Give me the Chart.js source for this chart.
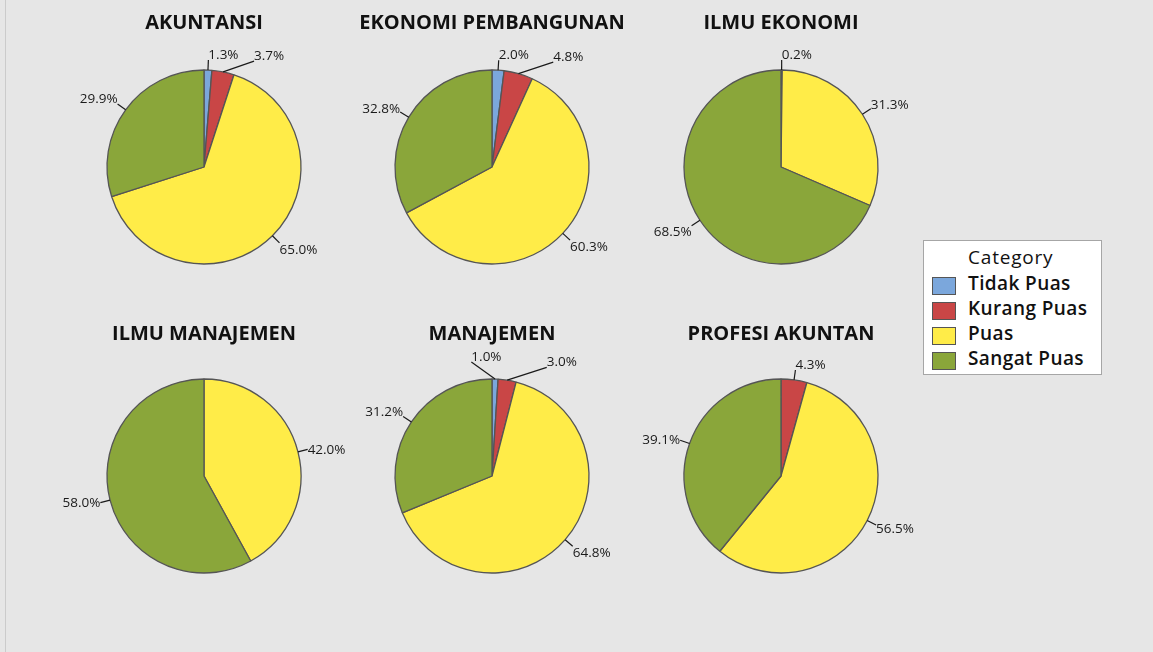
<!DOCTYPE html>
<html>
<head>
<meta charset="utf-8">
<script src="https://cdn.jsdelivr.net/npm/chart.js@4.4.1/dist/chart.umd.min.js"></script>
<style>
  html, body { margin: 0; padding: 0; }
  body {
    width: 1153px; height: 652px; position: relative; overflow: hidden;
    background: #e6e6e6; font-family: "Open Sans", sans-serif;
  }
  #frame { position: absolute; left: 5px; top: 0; width: 1px; height: 652px; background: #cbcbcb; }
  .pie { position: absolute; width: 300px; height: 280px; }
  #legend {
    position: absolute; left: 923px; top: 240px; width: 177px; height: 133px;
    background: #fff; border: 1px solid #a6a6a6;
  }
  #legend .head { position: absolute; left: 44px; top: 3px; font-size: 19px; letter-spacing: 0.8px; color: #111; }
  #legend .item { position: absolute; left: 8px; height: 20px; font-size: 19px; font-weight: 600; letter-spacing: 0.4px; color: #111; }
  #legend .item span.box {
    position: absolute; left: 0; top: 1px; width: 22px; height: 16px; border: 1px solid #555;
  }
  #legend .item span.txt { position: absolute; left: 36px; top: -6px; white-space: nowrap; }
</style>
</head>
<body>
<div id="frame"></div>
<div id="legend"><div class="head">Category</div></div>

<script>
// satisfaction categories and their slice colours
const categories = ['Tidak Puas', 'Kurang Puas', 'Puas', 'Sangat Puas'];
const colors = ['#7ba7dc', '#c94646', '#ffec48', '#8aa63a'];

// study programmes, one pie each
const programs = ['AKUNTANSI', 'EKONOMI PEMBANGUNAN', 'ILMU EKONOMI', 'ILMU MANAJEMEN', 'MANAJEMEN', 'PROFESI AKUNTAN'];

// percentages per category (Tidak Puas, Kurang Puas, Puas, Sangat Puas)
const akuntansi = [1.3, 3.7, 65.0, 29.9];
const ekonomiPembangunan = [2.0, 4.8, 60.3, 32.8];
const ilmuEkonomi = [0.2, 0, 31.3, 68.5];
const ilmuManajemen = [0, 0, 42.0, 58.0];
const manajemen = [1.0, 3.0, 64.8, 31.2];
const profesiAkuntan = [0, 4.3, 56.5, 39.1];

const series = [akuntansi, ekonomiPembangunan, ilmuEkonomi, ilmuManajemen, manajemen, profesiAkuntan];

// pie centres on the page (2 rows x 3 columns)
const colX = [204, 492, 781];
const rowY = [167, 476];
const RADIUS = 97;

// small labels near the top get pushed aside so they don't overlap
const labelNudges = [
    { 1: [29, -1] },
    { 1: [32, -2] },
    {},
    {},
    { 0: [-24, -7], 1: [38, -3] },
    {},
];

// percentage labels with leader lines, plus the pie title
const pieLabels = {
    id: 'pieLabels',
    afterDatasetsDraw(chart, args, opts) {
        const ctx = chart.ctx;
        const meta = chart.getDatasetMeta(0);
        const values = chart.data.datasets[0].data;
        const nudges = opts.nudges || {};

        ctx.save();
        ctx.font = '13.5px "Open Sans"';
        ctx.fillStyle = '#1a1a1a';
        ctx.strokeStyle = '#1a1a1a';
        ctx.lineWidth = 1.2;
        meta.data.forEach((arc, i) => {
            if (!values[i]) return;
            const p = arc.getProps(['x', 'y', 'startAngle', 'endAngle', 'outerRadius']);
            const a = (p.startAngle + p.endAngle) / 2;
            const dx = Math.cos(a), dy = Math.sin(a);
            const sx = p.x + p.outerRadius * dx, sy = p.y + p.outerRadius * dy;
            let ex = p.x + (p.outerRadius + 10) * dx, ey = p.y + (p.outerRadius + 10) * dy;
            if (nudges[i]) { ex += nudges[i][0]; ey += nudges[i][1]; }

            ctx.beginPath();
            ctx.moveTo(sx, sy);
            ctx.lineTo(ex, ey);
            ctx.stroke();

            const text = values[i].toFixed(1) + '%';
            const w = ctx.measureText(text).width;
            const h = 12;
            let f = Math.min(Math.max((Math.abs(dy) - 0.3) / 0.3, 0), 1);
            if (dy < 0) f = -f;
            const tx = dx >= -0.02 ? ex : ex - w;
            const ty = ey + f * h / 2;
            ctx.textAlign = 'left';
            ctx.textBaseline = 'middle';
            ctx.fillText(text, tx, ty + 1);
        });

        ctx.font = 'bold 20px "Open Sans"';
        ctx.fillStyle = '#111';
        ctx.textAlign = 'center';
        ctx.textBaseline = 'middle';
        ctx.fillText(opts.title, chart.width / 2, opts.titleY);
        ctx.restore();
    }
};

series.forEach((values, k) => {
    const cx = colX[k % 3], cy = rowY[Math.floor(k / 3)];
    const box = document.createElement('div');
    box.className = 'pie';
    box.style.left = (cx - 150) + 'px';
    box.style.top = (cy - 165) + 'px';
    const canvas = document.createElement('canvas');
    box.appendChild(canvas);
    document.body.appendChild(box);

    new Chart(canvas.getContext('2d'), {
        type: 'pie',
        data: {
            labels: categories,
            datasets: [{
                data: values,
                backgroundColor: colors,
                borderColor: '#555555',
                borderWidth: 1.3,
                radius: RADIUS,
            }],
        },
        options: {
            responsive: true,
            maintainAspectRatio: false,
            animation: false,
            events: [],
            layout: { padding: { top: 50, bottom: 0, left: 0, right: 0 } },
            plugins: {
                legend: { display: false },
                tooltip: { enabled: false },
                pieLabels: {
                    title: programs[k],
                    titleY: k < 3 ? 21 : 23,
                    nudges: labelNudges[k],
                },
            },
        },
        plugins: [pieLabels],
    });
});

// legend box on the right
const legend = document.getElementById('legend');
categories.forEach((name, i) => {
    const item = document.createElement('div');
    item.className = 'item';
    item.style.top = (35 + i * 25) + 'px';
    item.innerHTML = '<span class="box" style="background:' + colors[i] + '"></span><span class="txt">' + name + '</span>';
    legend.appendChild(item);
});
</script>
</body>
</html>
